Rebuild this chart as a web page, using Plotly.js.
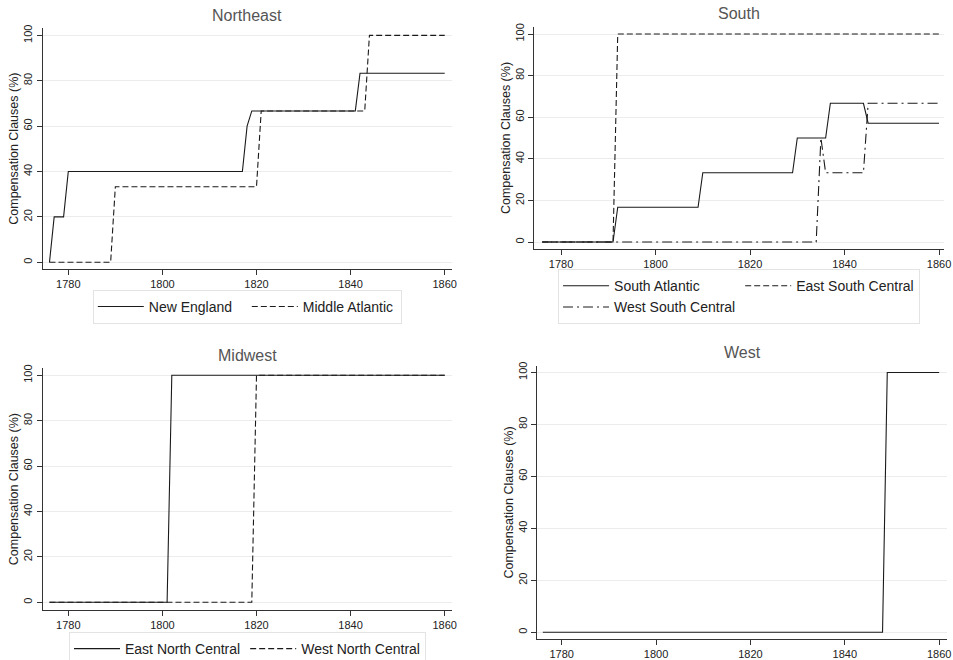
<!DOCTYPE html>
<html>
<head>
<meta charset="utf-8">
<script src="https://cdn.plot.ly/plotly-3.0.1.min.js"></script>
<style>html,body{margin:0;padding:0;background:#fff;}#chart{width:953px;height:660px;}</style>
</head>
<body>
<div id="chart"></div>
<script>
// ---- Data (share of constitutions with compensation clauses, %) ----
const panelTitles = ["Northeast", "South", "Midwest", "West"];
const xTicks = [1780, 1800, 1820, 1840, 1860];
const yTicks = [0, 20, 40, 60, 80, 100];
const yAxisLabel = "Compensation Clauses (%)";

const newEnglandYears = [1776, 1777, 1779, 1780, 1817, 1818, 1819, 1841, 1842, 1860];
const newEngland      = [0, 20, 20, 40, 40, 60, 66.7, 66.7, 83.3, 83.3];
const midAtlanticYears = [1776, 1789, 1790, 1820, 1821, 1843, 1844, 1860];
const midAtlantic      = [0, 0, 33.3, 33.3, 66.7, 66.7, 100, 100];

const southAtlanticYears = [1776, 1791, 1792, 1809, 1810, 1829, 1830, 1836, 1837, 1844, 1845, 1860];
const southAtlantic      = [0, 0, 16.7, 16.7, 33.3, 33.3, 50, 50, 66.7, 66.7, 57.1, 57.1];
const eastSouthCentralYears = [1776, 1791, 1792, 1860];
const eastSouthCentral      = [0, 0, 100, 100];
const westSouthCentralYears = [1776, 1834, 1835, 1836, 1844, 1845, 1860];
const westSouthCentral      = [0, 0, 50, 33.3, 33.3, 66.7, 66.7];

const eastNorthCentralYears = [1776, 1801, 1802, 1860];
const eastNorthCentral      = [0, 0, 100, 100];
const westNorthCentralYears = [1776, 1819, 1820, 1860];
const westNorthCentral      = [0, 0, 100, 100];

const westYears = [1776, 1848, 1849, 1860];
const westRegion = [0, 0, 100, 100];

// ---- Styles ----
const FONT = "Liberation Sans, Arial, Helvetica, sans-serif";
const INK = "#1a1a1a";
const SOLID = "solid", DASH = "6px,3px", DASHDOT = "10px,4px,2px,4px";

function line(x, y, name, dash, xa, ya, legend, group, show) {
  return {
    type: "scatter", mode: "lines", x: x, y: y, name: name,
    xaxis: xa, yaxis: ya, legend: legend, legendgroup: group,
    showlegend: show !== false,
    line: {color: INK, width: 1.1, dash: dash},
    hoverinfo: "skip"
  };
}

const traces = [
  line(newEnglandYears, newEngland, "New England", SOLID, "x", "y", "legend", "ne1"),
  line(midAtlanticYears, midAtlantic, "Middle Atlantic", DASH, "x", "y", "legend", "ne2"),
  line(southAtlanticYears, southAtlantic, "South Atlantic", SOLID, "x2", "y2", "legend2", "sA"),
  line(eastSouthCentralYears, eastSouthCentral, "East South Central", DASH, "x2", "y2", "legend2", "sB"),
  line(westSouthCentralYears, westSouthCentral, "West South Central", DASHDOT, "x2", "y2", "legend2", "sA"),
  line(eastNorthCentralYears, eastNorthCentral, "East North Central", SOLID, "x3", "y3", "legend3", "mw1"),
  line(westNorthCentralYears, westNorthCentral, "West North Central", DASH, "x3", "y3", "legend3", "mw2"),
  line(westYears, westRegion, "West", SOLID, "x4", "y4", "legend", "w", false)
];

function xAxis(domain, range, anchor) {
  return {
    domain: domain, range: range, anchor: anchor,
    tickvals: xTicks, ticktext: xTicks.map(String),
    showgrid: false, zeroline: false,
    showline: true, linecolor: "#333", linewidth: 1,
    ticks: "outside", ticklen: 5, tickcolor: "#333", tickwidth: 1,
    tickfont: {family: FONT, size: 11, color: "#222"}
  };
}
function yAxis(domain, range, anchor) {
  return {
    domain: domain, range: range, anchor: anchor,
    tickvals: yTicks, ticktext: yTicks.map(String), tickangle: -90,
    showgrid: true, gridcolor: "#ececec", gridwidth: 1, zeroline: false,
    showline: true, linecolor: "#333", linewidth: 1,
    ticks: "outside", ticklen: 5, tickcolor: "#333", tickwidth: 1,
    tickfont: {family: FONT, size: 11, color: "#222"},
    title: {text: yAxisLabel, font: {family: FONT, size: 12.5, color: "#222"}, standoff: 0}
  };
}

function titleAnn(text, x, y) {
  return {text: text, x: x, y: y, xref: "paper", yref: "paper",
    xanchor: "center", yanchor: "middle", showarrow: false,
    font: {family: FONT, size: 16, color: "#555"}};
}

const legendBase = {
  orientation: "h", xanchor: "center", yanchor: "middle",
  bgcolor: "#fff", bordercolor: "#e3e3e3", borderwidth: 1,
  font: {family: FONT, size: 14, color: "#222"},
  itemwidth: 46, itemclick: false, itemdoubleclick: false
};

const layout = {
  width: 953, height: 660,
  margin: {l: 0, r: 0, t: 0, b: 0, autoexpand: false},
  paper_bgcolor: "#fff", plot_bgcolor: "#fff",
  font: {family: FONT},
  xaxis:  xAxis([0.0448, 0.474], [1774.56, 1861.49], "y"),
  yaxis:  yAxis([0.5924, 0.9571], [-2.95, 103.1], "x"),
  xaxis2: xAxis([0.5607, 0.9906], [1774.35, 1861.06], "y2"),
  yaxis2: yAxis([0.6223, 0.9595], [-3.5, 103.5], "x2"),
  xaxis3: xAxis([0.0448, 0.474], [1774.56, 1861.49], "y3"),
  yaxis3: yAxis([0.0758, 0.442], [-3.4, 103.1], "x3"),
  xaxis4: xAxis([0.5638, 0.9934], [1774.83, 1861.6], "y4"),
  yaxis4: yAxis([0.0314, 0.4459], [-2.7, 102.6], "x4"),
  legend:  Object.assign({}, legendBase, {x: 0.2595, y: 0.535, entrywidth: 93}),
  legend2: Object.assign({}, legendBase, {x: 0.7755, y: 0.5505, traceorder: "grouped", tracegroupgap: 0}),
  legend3: Object.assign({}, legendBase, {x: 0.2597, y: 0.0424, yanchor: "top"}),
  annotations: [
    titleAnn(panelTitles[0], 0.2592, 0.977),
    titleAnn(panelTitles[1], 0.7758, 0.9788),
    titleAnn(panelTitles[2], 0.2592, 0.4621),
    titleAnn(panelTitles[3], 0.7786, 0.4656)
  ],
  showlegend: true
};

Plotly.newPlot("chart", traces, layout, {displayModeBar: false, staticPlot: true});
</script>
</body>
</html>
